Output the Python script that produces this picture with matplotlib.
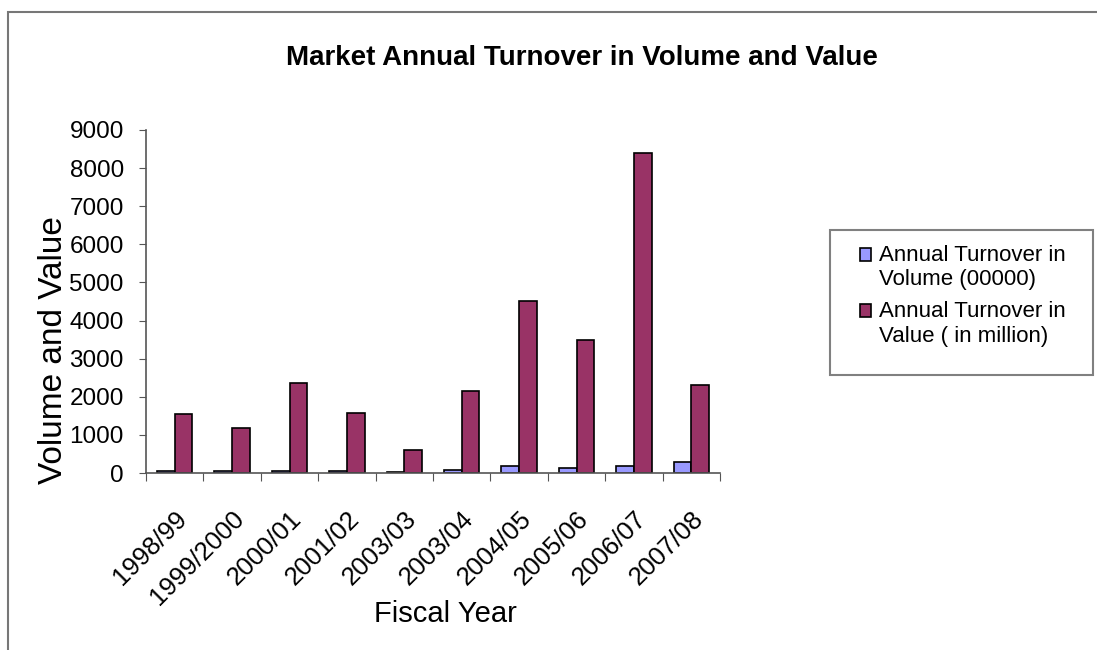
import numpy as np
import matplotlib
matplotlib.use("Agg")
import matplotlib.pyplot as plt
from matplotlib.patches import Rectangle
from matplotlib.legend_handler import HandlerPatch

plt.rcParams.update({
    "font.family": ["Liberation Sans", "DejaVu Sans"],
})
VOL_C, VAL_C = "#9999ff", "#993366"
W, H = 1097, 650

years = ["1998/99", "1999/2000", "2000/01", "2001/02", "2003/03",
         "2003/04", "2004/05", "2005/06", "2006/07", "2007/08"]
volume = [50, 55, 55, 55, 20, 70, 175, 140, 175, 298]
value = [1540, 1180, 2360, 1575, 595, 2155, 4520, 3485, 8405, 2310]
series = ["Annual Turnover in\nVolume (00000)", "Annual Turnover in\nValue ( in million)"]

fig = plt.figure(figsize=(W/100, H/100), dpi=100)
ax = fig.add_axes([146/W, 1 - 473/H, 574/W, 343/H])

x = np.arange(len(years)); w = 0.31
b1 = ax.bar(x - w/2, volume, w, color=VOL_C, edgecolor="black", lw=1.2)
b2 = ax.bar(x + w/2, value, w, color=VAL_C, edgecolor="black", lw=1.2)

ax.set_xlim(-0.5, len(years) - 0.5)
ax.set_ylim(0, 9000)
ax.set_yticks(range(0, 9001, 1000))
ax.tick_params(axis="y", labelsize=17.5, length=5, color="#555555",
               direction="out", pad=11)
# ticks between the categories, labels on the centres
ax.set_xticks(np.arange(-0.5, len(years)), minor=False)
ax.set_xticklabels([])
ax.set_xticks(x, minor=True)
ax.set_xticklabels(years, minor=True, rotation=45, ha="right",
                   rotation_mode="anchor", fontsize=18.5)
ax.tick_params(axis="x", which="major", length=6, color="#555555", direction="out")
ax.tick_params(axis="x", which="minor", length=0, pad=24)
for s in ["top", "right"]:
    ax.spines[s].set_visible(False)
for s in ["left", "bottom"]:
    ax.spines[s].set_color("#555555")
    ax.spines[s].set_linewidth(1.2)

fig.text(54/W, 1 - 350/H, "Volume and Value", rotation=90,
         ha="center", va="center", fontsize=24)
fig.text(445/W, 1 - 614/H, "Fiscal Year", ha="center", va="center", fontsize=21)
fig.text(582/W, 1 - 58/H, "Market Annual Turnover in Volume and Value",
         ha="center", va="center", fontsize=20, fontweight="bold")


def top_square(legend, orig_handle, xdescent, ydescent, width, height, fontsize):
    # small square level with the first line of a two-line label
    return Rectangle((-xdescent, -ydescent + 0.6 * fontsize), width, height)


# legend box drawn separately so its padding can be set freely
fig.patches.append(Rectangle((830/W, 1 - 375/H), 263/W, 145/H,
                             transform=fig.transFigure, fill=False,
                             edgecolor="#808080", lw=1.5))
h1, h2 = b1.patches[0], b2.patches[0]
sq = HandlerPatch(patch_func=top_square)
fig.legend([h1, h2], series, loc="upper left", bbox_to_anchor=(860/W, 1 - 245/H),
           prop={"size": 16}, frameon=False, handler_map={h1: sq, h2: sq},
           handlelength=0.5, handleheight=0.5, handletextpad=0.35,
           labelspacing=0.5, borderpad=0, borderaxespad=0)

# chart border
fig.patches.append(Rectangle((8/W, -0.1), 1.2, 1 - 12/H + 0.1,
                             transform=fig.transFigure, fill=False,
                             edgecolor="#777777", lw=1.5))

fig.savefig("out.png", dpi=100)
